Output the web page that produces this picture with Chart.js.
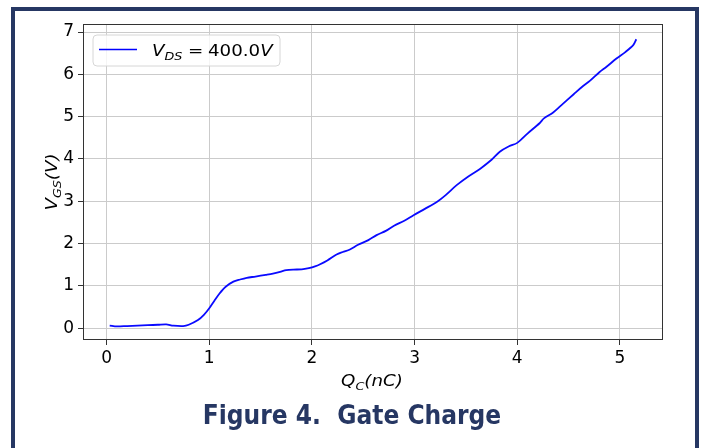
<!DOCTYPE html>
<html>
<head>
<meta charset="utf-8">
<script src="https://cdn.jsdelivr.net/npm/chart.js@4/dist/chart.umd.min.js"></script>
<style>
  html, body { margin: 0; padding: 0; background: #fff; width: 704px; height: 448px; overflow: hidden; }
  .frame { position: absolute; left: 11px; top: 7px; width: 680px; height: 460px; border: 4px solid #263763; }
  #chart { position: absolute; left: 0; top: 0; }
  .caption { position: absolute; left: 0; width: 704px; top: 400px; text-align: center;
    font-family: "DejaVu Sans Condensed", "DejaVu Sans", sans-serif; font-weight: bold; font-size: 26px; color: #263763; }
</style>
</head>
<body>
<div class="frame"></div>
<canvas id="chart" width="704" height="448"></canvas>
<div class="caption">Figure 4.&nbsp; Gate Charge</div>
<script>
// gate charge Qc (nC) and gate voltage Vgs (V)
var qc = [0.03, 0.1, 0.2, 0.3, 0.4, 0.5, 0.58, 0.65, 0.745, 0.8, 0.89, 0.95, 1.0, 1.05, 1.1, 1.16, 1.235, 1.3, 1.365, 1.45,
          1.55, 1.62, 1.69, 1.75, 1.82, 1.9, 1.97, 2.03, 2.08, 2.15, 2.24, 2.3, 2.37, 2.45, 2.55, 2.63, 2.72, 2.8, 2.9, 2.99,
          3.1, 3.22, 3.3, 3.41, 3.52, 3.64, 3.75, 3.83, 3.92, 4.0, 4.1, 4.22, 4.26, 4.35, 4.42, 4.55, 4.63, 4.71, 4.8, 4.87,
          4.97, 5.05, 5.13, 5.16];
var vgs = [0.06, 0.04, 0.05, 0.06, 0.07, 0.08, 0.09, 0.06, 0.05, 0.08, 0.19, 0.32, 0.47, 0.65, 0.82, 0.98, 1.10, 1.15, 1.19, 1.22,
           1.26, 1.29, 1.33, 1.37, 1.385, 1.39, 1.42, 1.46, 1.51, 1.6, 1.74, 1.8, 1.86, 1.97, 2.08, 2.2, 2.3, 2.42, 2.54, 2.67,
           2.82, 2.99, 3.14, 3.38, 3.58, 3.77, 3.98, 4.17, 4.3, 4.38, 4.6, 4.85, 4.96, 5.1, 5.25, 5.53, 5.7, 5.85, 6.05, 6.18,
           6.38, 6.52, 6.69, 6.83];
var xTicks = [0, 1, 2, 3, 4, 5];
var yTicks = [0, 1, 2, 3, 4, 5, 6, 7];

var points = qc.map(function (q, i) { return { x: q, y: vgs[i] }; });

// the source figure is stretched a little sideways
var SX = 1.14;

// draws text pieces [[text, italic, sub], ...] starting at x (or centered on x)
function mathText(ctx, parts, x, y, size, center) {
    function font(p) {
        return (p[1] ? 'italic ' : '') + (p[2] ? size * 0.7 : size) + 'px "DejaVu Sans"';
    }
    var w = 0;
    parts.forEach(function (p) { ctx.font = font(p); w += ctx.measureText(p[0]).width; });
    ctx.save();
    ctx.translate(x, y);
    ctx.scale(SX, 1);
    var cx = center ? -w / 2 : 0;
    ctx.textBaseline = 'alphabetic';
    ctx.textAlign = 'left';
    parts.forEach(function (p) {
        ctx.font = font(p);
        ctx.fillText(p[0], cx, p[2] ? size * 0.22 : 0);
        cx += ctx.measureText(p[0]).width;
    });
    ctx.restore();
}

var decorations = {
    id: 'decorations',
    afterDraw: function (chart) {
        var ctx = chart.ctx, a = chart.chartArea;
        ctx.save();
        // axes frame
        ctx.strokeStyle = '#333';
        ctx.lineWidth = 1;
        ctx.strokeRect(Math.round(a.left) + 0.5, Math.round(a.top) + 0.5, Math.round(a.right - a.left) - 1, Math.round(a.bottom - a.top) - 1);

        // legend box
        var bx = 93, by = 35, bw = 187, bh = 31, r = 4;
        ctx.beginPath();
        ctx.moveTo(bx + r, by);
        ctx.arcTo(bx + bw, by, bx + bw, by + bh, r);
        ctx.arcTo(bx + bw, by + bh, bx, by + bh, r);
        ctx.arcTo(bx, by + bh, bx, by, r);
        ctx.arcTo(bx, by, bx + bw, by, r);
        ctx.closePath();
        ctx.fillStyle = 'rgba(255,255,255,0.8)';
        ctx.fill();
        ctx.strokeStyle = '#d6d6d6';
        ctx.stroke();
        ctx.beginPath();
        ctx.moveTo(99, 49.5);
        ctx.lineTo(137, 49.5);
        ctx.strokeStyle = '#0000ff';
        ctx.lineWidth = 1.5;
        ctx.stroke();
        ctx.fillStyle = '#000';
        mathText(ctx, [['V', true, false], ['DS', true, true]], 152, 56, 16, false);
        mathText(ctx, [['=', false, false]], 188, 56, 16, false);
        mathText(ctx, [['400.0', false, false], ['V', true, false]], 208, 56, 16, false);

        // axis titles
        mathText(ctx, [['Q', true, false], ['C', true, true], ['(nC)', true, false]], 372, 386, 16, true);
        ctx.translate(57, 182);
        ctx.rotate(-Math.PI / 2);
        mathText(ctx, [['V', true, false], ['GS', true, true], ['(V)', true, false]], 0, 0, 16, true);
        ctx.restore();
    }
};

var ctx = document.getElementById('chart').getContext('2d');
new Chart(ctx, {
    type: 'scatter',
    data: {
        datasets: [{
            label: 'VDS = 400.0V',
            data: points,
            showLine: true,
            borderColor: '#0a0aff',
            borderWidth: 1.8,
            pointRadius: 0,
            tension: 0.3,
            fill: false
        }]
    },
    options: {
        responsive: false,
        animation: false,
        layout: { padding: { left: 0, top: 24, right: 41, bottom: 0 } },
        plugins: {
            legend: { display: false },
            tooltip: { enabled: false }
        },
        scales: {
            x: {
                type: 'linear',
                min: -0.23,
                max: 5.42,
                afterBuildTicks: function (s) { s.ticks = xTicks.map(function (v) { return { value: v }; }); },
                afterFit: function (s) { s.height = 108; },
                grid: { color: '#cbcbcb', tickColor: '#333', tickLength: 5, lineWidth: 1 },
                border: { display: false },
                ticks: { color: '#000', padding: 3, font: { family: 'DejaVu Sans', size: 17 } }
            },
            y: {
                type: 'linear',
                min: -0.28,
                max: 7.19,
                afterBuildTicks: function (s) { s.ticks = yTicks.map(function (v) { return { value: v }; }); },
                afterFit: function (s) { s.width = 83; },
                grid: { color: '#cbcbcb', tickColor: '#333', tickLength: 5, lineWidth: 1 },
                border: { display: false },
                ticks: { color: '#000', padding: 4, font: { family: 'DejaVu Sans', size: 17 } }
            }
        }
    },
    plugins: [decorations]
});
</script>
</body>
</html>
